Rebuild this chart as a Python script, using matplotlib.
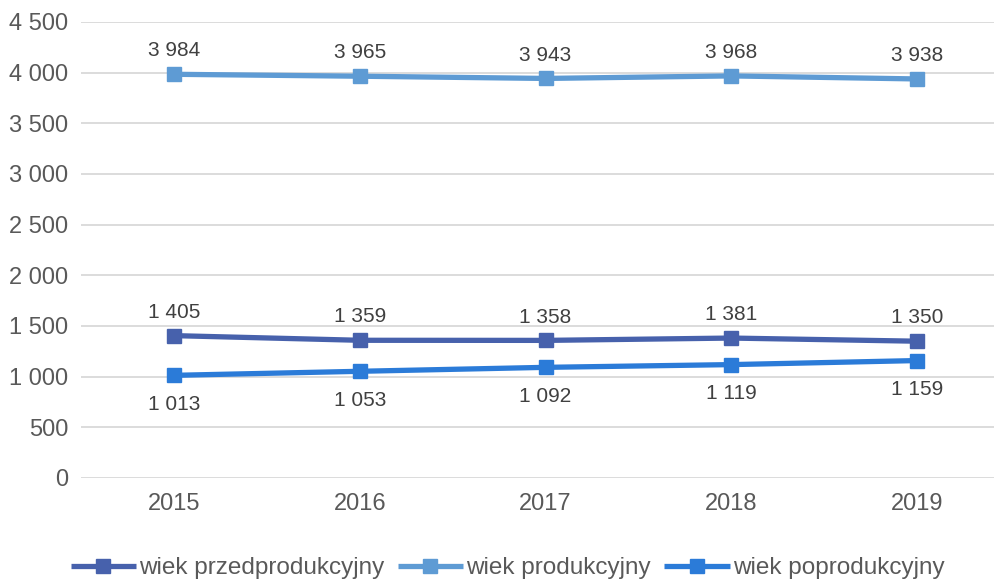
import matplotlib.pyplot as plt

lata = ['2015', '2016', '2017', '2018', '2019']
przed = [1405, 1359, 1358, 1381, 1350]
prod = [3984, 3965, 3943, 3968, 3938]
poprod = [1013, 1053, 1092, 1119, 1159]

serie = [
    ('wiek przedprodukcyjny', przed, '#4761AC', 'gora'),
    ('wiek produkcyjny', prod, '#5E9BD4', 'gora'),
    ('wiek poprodukcyjny', poprod, '#2B7BD8', 'dol'),
]

def fmt(v):
    return '{:,}'.format(int(v)).replace(',', ' ')

plt.rcParams['font.family'] = ['Liberation Sans', 'DejaVu Sans']

fig = plt.figure(figsize=(9.95, 5.81), dpi=100)
ax = fig.add_axes([81 / 995, 103 / 581, 929 / 995, 456 / 581])

x = list(range(len(lata)))
for nazwa, y, kolor, poz in serie:
    ax.plot(x, y, color=kolor, lw=3.8, marker='s', ms=10, label=nazwa,
            solid_capstyle='butt', zorder=3)
    for xi, yi in zip(x, y):
        if poz == 'gora':
            ax.annotate(fmt(yi), (xi, yi), xytext=(0, 10), textcoords='offset points',
                        ha='center', va='bottom', fontsize=15, color='#404040')
        else:
            ax.annotate(fmt(yi), (xi, yi), xytext=(0, -14), textcoords='offset points',
                        ha='center', va='top', fontsize=15, color='#404040')

ax.set_xlim(-0.5, len(lata) - 0.5)
ax.set_ylim(0, 4500)
ax.set_yticks(range(0, 4501, 500))
ax.set_yticklabels([fmt(v) for v in range(0, 4501, 500)])
ax.set_xticks(x)
ax.set_xticklabels(lata)
ax.tick_params(axis='both', length=0, labelsize=17, colors='#595959')
ax.tick_params(axis='y', pad=9)
ax.tick_params(axis='x', pad=11)
ax.grid(axis='y', color='#D9D9D9', lw=1.3)
ax.set_axisbelow(True)
for s in ax.spines.values():
    s.set_visible(False)

fig.legend(loc='center', bbox_to_anchor=(0.51, 0.022), ncol=3, frameon=False,
           fontsize=17.5, labelcolor='#595959', handlelength=2.7, handletextpad=0.12,
           columnspacing=0.55)

fig.savefig('out.png', dpi=100)
